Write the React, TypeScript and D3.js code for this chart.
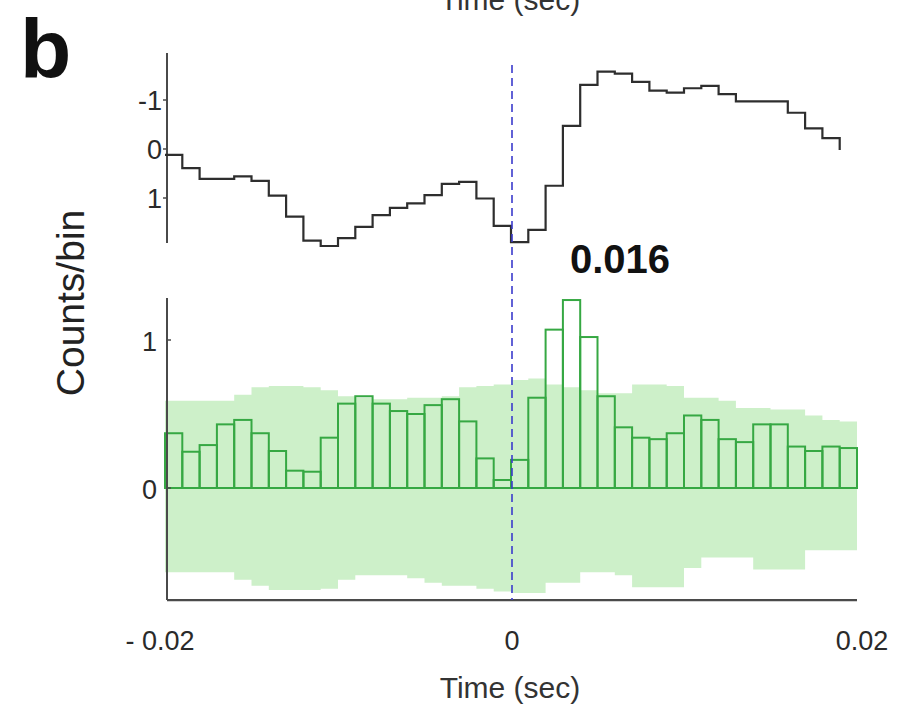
import React from "react";
import * as d3 from "d3";

// ---- data ----
const binStarts: number[] = d3.range(40).map((k) => -0.02 + k * 0.001);
const binWidth = 0.001;

// top trace (inverted axis), one value per bin
const topValues: number[] = [
  0.12, 0.39, 0.61, 0.61, 0.56, 0.65, 0.95, 1.38, 1.87, 1.98,
  1.82, 1.59, 1.35, 1.2, 1.11, 0.94, 0.71, 0.67, 1.01, 1.57,
  1.9, 1.65, 0.75, -0.47, -1.31, -1.58, -1.54, -1.37, -1.19, -1.15,
  -1.24, -1.29, -1.12, -0.97, -0.97, -0.97, -0.74, -0.42, -0.22, 0.02,
];

// cross-correlogram counts per bin
const counts: number[] = [
  0.37, 0.245, 0.29, 0.43, 0.46, 0.37, 0.25, 0.117, 0.11, 0.34,
  0.57, 0.62, 0.57, 0.52, 0.5, 0.56, 0.6, 0.45, 0.2, 0.054,
  0.19, 0.61, 1.07, 1.27, 1.02, 0.62, 0.41, 0.34, 0.33, 0.37,
  0.49, 0.46, 0.33, 0.31, 0.43, 0.43, 0.28, 0.25, 0.28, 0.27,
];

// confidence band
const bandUpper: number[] = [
  0.59, 0.59, 0.59, 0.59, 0.63, 0.68, 0.69, 0.69, 0.68, 0.66,
  0.62, 0.61, 0.6, 0.6, 0.61, 0.61, 0.62, 0.68, 0.69, 0.7,
  0.73, 0.74, 0.7, 0.68, 0.66, 0.64, 0.64, 0.7, 0.7, 0.69,
  0.61, 0.61, 0.59, 0.54, 0.54, 0.53, 0.53, 0.49, 0.46, 0.45,
];
const bandLower: number[] = [
  -0.57, -0.57, -0.57, -0.57, -0.62, -0.66, -0.69, -0.69, -0.69, -0.68,
  -0.62, -0.59, -0.59, -0.59, -0.61, -0.64, -0.66, -0.66, -0.68, -0.7,
  -0.71, -0.71, -0.64, -0.64, -0.57, -0.57, -0.59, -0.67, -0.67, -0.67,
  -0.54, -0.47, -0.47, -0.47, -0.55, -0.55, -0.55, -0.42, -0.42, -0.42,
];

const xTicks: number[] = [-0.02, 0, 0.02];
const xTickLabels: string[] = ["- 0.02", "0", "0.02"];
const topYTicks: number[] = [-1, 0, 1];
const topYTickLabels: string[] = ["-1", "0", "1"];
const botYTicks: number[] = [0, 1];
const botYTickLabels: string[] = ["0", "1"];
const peakLabel = "0.016";

const FONT = "'Liberation Sans', Arial, sans-serif";

export default function App() {
  const W = 900;
  const H = 712;

  const x = d3.scaleLinear().domain([-0.02, 0.02]).range([165, 857]);
  const yTop = d3.scaleLinear().domain([-2, 2]).range([51, 247]);
  const yBot = d3.scaleLinear().domain([0, 1]).range([488, 340]);

  const axisColor = "#4a4a4a";
  const green = "#36a843";
  const bandColor = "#cdf0c9";

  // top stairs line
  const topPts: [number, number][] = binStarts.map((b, i) => [b, topValues[i]]);
  const topLine = d3
    .line<[number, number]>()
    .x((d) => x(d[0]))
    .y((d) => yTop(d[1]))
    .curve(d3.curveStepAfter)(topPts);

  // band as stepped area
  const bandPts = binStarts.map((b, i) => ({ x: b, lo: bandLower[i], hi: bandUpper[i] }));
  bandPts.push({ x: 0.02, lo: bandLower[39], hi: bandUpper[39] });
  const bandPath = d3
    .area<{ x: number; lo: number; hi: number }>()
    .x((d) => x(d.x))
    .y0((d) => yBot(d.lo))
    .y1((d) => yBot(d.hi))
    .curve(d3.curveStepAfter)(bandPts);

  const topAxisY0 = yTop(-1.96);
  const topAxisY1 = yTop(1.92);
  const botAxisTop = yBot(1.284);
  const botAxisBottom = yBot(-0.757);
  const axisX = 167;

  return (
    <svg width={W} height={H} style={{ position: "absolute", left: 0, top: 0 }}>
      <rect x={0} y={0} width={W} height={H} fill="#fff" />
      {/* cut-off label of the previous panel */}
      <text x={510} y={10} fontFamily={FONT} fontSize={30} fill="#333" textAnchor="middle">
        Time (sec)
      </text>
      {/* panel letter */}
      <text x={20} y={78} fontFamily={FONT} fontSize={84} fontWeight="bold" fill="#111">
        b
      </text>

      {/* ---- top panel ---- */}
      <line x1={axisX} x2={axisX} y1={topAxisY0} y2={topAxisY1} stroke={axisColor} strokeWidth={2} />
      {topYTicks.map((t, i) => (
        <g key={"tt" + i}>
          <line x1={axisX} x2={axisX - 4} y1={yTop(t)} y2={yTop(t)} stroke={axisColor} strokeWidth={1.5} />
          <text
            x={162}
            y={yTop(t) + 10}
            fontFamily={FONT}
            fontSize={27}
            fill="#2a2a2a"
            textAnchor="end"
          >
            {topYTickLabels[i]}
          </text>
        </g>
      ))}
      <path d={topLine || ""} fill="none" stroke="#2e2e2e" strokeWidth={2.2} />

      {/* ---- bottom panel ---- */}
      <path d={bandPath || ""} fill={bandColor} stroke="none" />
      {binStarts.map((b, i) => (
        <rect
          key={"bar" + i}
          x={x(b)}
          y={yBot(counts[i])}
          width={x(b + binWidth) - x(b)}
          height={yBot(0) - yBot(counts[i])}
          fill="none"
          stroke={green}
          strokeWidth={2}
        />
      ))}
      <line x1={x(-0.02)} x2={x(0.02)} y1={yBot(0)} y2={yBot(0)} stroke={green} strokeWidth={2} />

      <line x1={axisX} x2={axisX} y1={botAxisTop} y2={botAxisBottom} stroke={axisColor} strokeWidth={2} />
      <line x1={axisX} x2={x(0.02)} y1={botAxisBottom} y2={botAxisBottom} stroke={axisColor} strokeWidth={2.2} />
      {botYTicks.map((t, i) => (
        <g key={"bt" + i}>
          <line x1={axisX} x2={axisX + 4} y1={yBot(t)} y2={yBot(t)} stroke={axisColor} strokeWidth={1.5} />
          <text
            x={157}
            y={yBot(t) + 11}
            fontFamily={FONT}
            fontSize={27}
            fill="#2a2a2a"
            textAnchor="end"
          >
            {botYTickLabels[i]}
          </text>
        </g>
      ))}
      {xTicks.map((t, i) => (
        <text
          key={"xt" + i}
          x={x(t) + (i === 0 ? -5 : i === 2 ? 5 : 1)}
          y={650}
          fontFamily={FONT}
          fontSize={27}
          fill="#2a2a2a"
          textAnchor="middle"
        >
          {xTickLabels[i]}
        </text>
      ))}

      {/* dashed zero line */}
      <line
        x1={x(0) + 1}
        x2={x(0) + 1}
        y1={65}
        y2={botAxisBottom}
        stroke="#3b3bcc"
        strokeWidth={1.6}
        strokeDasharray="8,5"
      />

      <text x={620} y={273} fontFamily={FONT} fontSize={40} fontWeight="bold" fill="#111" textAnchor="middle">
        {peakLabel}
      </text>

      <text
        transform={`translate(84, 303) rotate(-90)`}
        fontFamily={FONT}
        fontSize={39}
        fill="#222"
        textAnchor="middle"
      >
        Counts/bin
      </text>
      <text x={510} y={698} fontFamily={FONT} fontSize={30} fill="#333" textAnchor="middle">
        Time (sec)
      </text>
    </svg>
  );
}
